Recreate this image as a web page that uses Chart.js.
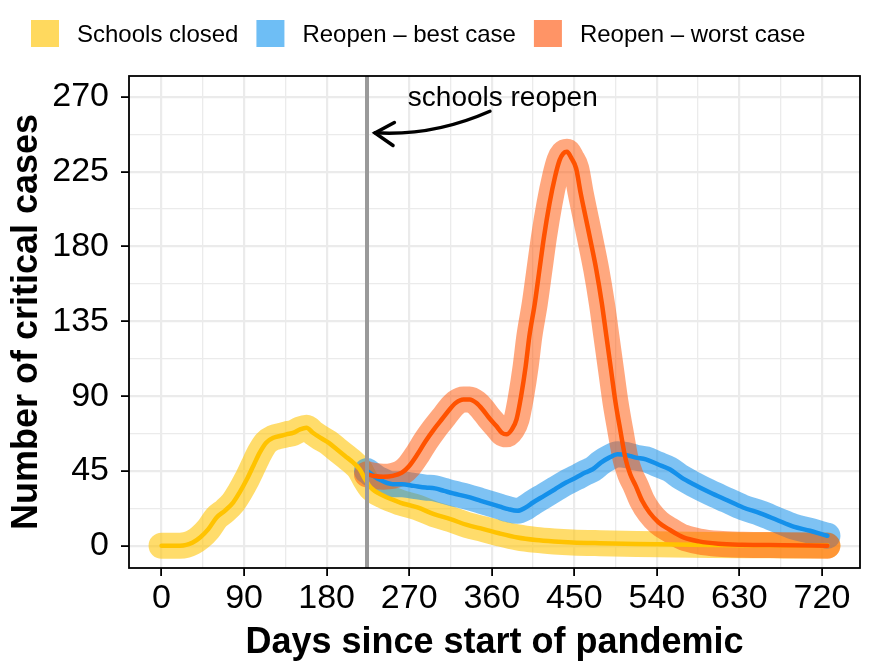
<!DOCTYPE html>
<html>
<head>
<meta charset="utf-8">
<script src="https://cdn.jsdelivr.net/npm/chart.js@4.4.1/dist/chart.umd.min.js"></script>
<style>
  html, body { margin: 0; padding: 0; background: #fff; }
  canvas { display: block; }
</style>
</head>
<body>
<canvas id="chart" width="872" height="666"></canvas>
<script>
// schools closed
const closedDays = [0, 10, 20, 27, 34, 42, 51, 60, 69, 78, 85, 93, 100, 107, 114, 122, 129, 136, 144, 151, 158, 165, 173, 182, 191, 200, 209, 216, 222, 228, 242, 260, 279, 297, 315, 333, 351, 368, 388, 408, 428, 448, 478, 518, 558, 598, 638, 678, 726];
const closedCases = [0, 0, 0, 0.5, 2, 5, 10, 17, 21, 26, 32, 40, 48, 56, 62, 65, 66, 67, 68, 70, 71, 68, 65, 62, 58, 54, 50, 46, 40, 35, 30, 26, 23, 19, 16, 12.5, 10, 7.5, 5, 3.5, 2.6, 2, 1.5, 1, 0.8, 0.5, 0.3, 0.2, 0.1];

// reopen - best case
const bestDays = [224, 237, 252, 262, 275, 288, 298, 308, 318, 333, 348, 360, 369, 378, 388, 397, 405, 417, 429, 441, 452, 462, 470, 479, 488, 497, 507, 517, 528, 541, 554, 567, 580, 598, 616, 634, 653, 671, 689, 707, 722, 726];
const bestCases = [45, 40, 37, 37, 36, 35, 34.5, 33, 31.5, 29.5, 27, 25, 23.5, 22, 21, 23, 26, 30, 34, 38, 41, 44, 46, 50, 53, 55, 54.5, 53, 52, 49, 46, 41, 37, 32, 27.5, 23, 19.5, 15.5, 11.5, 9, 6.5, 6];

// reopen - worst case
const worstDays = [224, 232, 242, 252, 262, 270, 279, 288, 297, 307, 314, 321, 329, 336, 343, 350, 357, 365, 371, 376, 382, 387, 392, 397, 401, 407, 412, 417, 423, 429, 434, 438, 442, 447, 452, 457, 463, 469, 474, 480, 485, 490, 495, 500, 506, 511, 517, 524, 532, 542, 554, 569, 586, 607, 633, 677, 726];
const worstCases = [43, 42, 41.5, 42, 44, 48, 55, 63, 70, 77, 82, 86, 88, 88, 86, 82, 77, 72, 68, 67, 70, 76, 90, 108, 126, 146, 166, 186, 206, 222, 232, 236, 237, 233, 227, 212, 196, 180, 166, 146, 126, 106, 86, 70, 52, 43, 36, 27, 20, 14, 9.6, 5, 2.6, 1.2, 0.6, 0.3, 0];

const seriesNames = ['Schools closed', 'Reopen \u2013 best case', 'Reopen \u2013 worst case'];
const xTicks = [0, 45, 90, 135, 180, 225, 270, 315, 360, 405, 450, 495, 540, 585, 630, 675, 720];
const yTicks = [0, 22.5, 45, 67.5, 90, 112.5, 135, 157.5, 180, 202.5, 225, 247.5, 270];
const reopenDay = 224;

const lineColors = ['#FFC300', '#1490EA', '#FF5200'];
const bandColors = ['rgba(255,194,0,0.58)', 'rgba(20,144,234,0.55)', 'rgba(255,82,0,0.5)'];
const keyColors = ['#FFD95E', '#6EBEF5', '#FF9466'];

const font = '"Liberation Sans", Arial, sans-serif';

function pts(days, cases) {
  return days.map((d, i) => ({ x: d, y: cases[i] }));
}

const series = [pts(closedDays, closedCases), pts(bestDays, bestCases), pts(worstDays, worstCases)];

const datasets = [];
// translucent bands first, then the solid lines on top
series.forEach((data, i) => {
  datasets.push({
    data: data,
    borderColor: bandColors[i],
    borderWidth: 26,
    borderCapStyle: 'round',
    borderJoinStyle: 'round',
    pointRadius: 0,
    cubicInterpolationMode: 'monotone',
    order: 6 - i
  });
});
series.forEach((data, i) => {
  datasets.push({
    data: data,
    borderColor: lineColors[i],
    borderWidth: 4.5,
    borderCapStyle: 'round',
    borderJoinStyle: 'round',
    pointRadius: 0,
    cubicInterpolationMode: 'monotone',
    order: 3 - i
  });
});

const extras = {
  id: 'extras',
  afterDatasetsDraw(chart) {
    const { ctx, scales: { x, y }, chartArea: a } = chart;
    ctx.save();
    // schools reopen line
    const px = x.getPixelForValue(reopenDay);
    ctx.strokeStyle = '#9A9A9A';
    ctx.lineWidth = 4;
    ctx.beginPath();
    ctx.moveTo(px, a.top);
    ctx.lineTo(px, a.bottom);
    ctx.stroke();

    // annotation
    ctx.fillStyle = '#000';
    ctx.font = '28px ' + font;
    ctx.textAlign = 'center';
    ctx.textBaseline = 'alphabetic';
    ctx.fillText('schools reopen', x.getPixelForValue(372), y.getPixelForValue(264.4));

    const sx = x.getPixelForValue(358), sy = y.getPixelForValue(261.4);
    const cx = x.getPixelForValue(296), cy = y.getPixelForValue(246.3);
    const tx = x.getPixelForValue(232.7), ty = y.getPixelForValue(248.4);
    ctx.strokeStyle = '#000';
    ctx.lineWidth = 3.5;
    ctx.lineCap = 'round';
    ctx.beginPath();
    ctx.moveTo(sx, sy);
    ctx.quadraticCurveTo(cx, cy, tx, ty);
    ctx.stroke();
    const ang = Math.atan2(ty - cy, tx - cx);
    ctx.beginPath();
    ctx.moveTo(tx - 22 * Math.cos(ang - 0.55), ty - 22 * Math.sin(ang - 0.55));
    ctx.lineTo(tx, ty);
    ctx.lineTo(tx - 22 * Math.cos(ang + 0.55), ty - 22 * Math.sin(ang + 0.55));
    ctx.stroke();
    ctx.restore();
  },
  afterDraw(chart) {
    const { ctx, chartArea: a } = chart;
    ctx.save();
    // panel border
    ctx.strokeStyle = '#000';
    ctx.lineWidth = 1.8;
    ctx.strokeRect(a.left, a.top, a.right - a.left, a.bottom - a.top);

    // legend
    ctx.font = '24px ' + font;
    ctx.textBaseline = 'middle';
    ctx.textAlign = 'left';
    let lx = 31;
    seriesNames.forEach((name, i) => {
      ctx.fillStyle = keyColors[i];
      ctx.fillRect(lx, 20, 28, 27);
      lx += 28 + 18;
      ctx.fillStyle = '#000';
      ctx.fillText(name, lx, 35);
      lx += ctx.measureText(name).width + 18;
    });
    ctx.restore();
  }
};

const isMajor = (v, step) => Math.abs(v % step) < 1e-6;

new Chart('chart', {
  type: 'line',
  data: { datasets: datasets },
  options: {
    responsive: false,
    animation: false,
    layout: { padding: { top: 76, right: 12, left: 0, bottom: 0 } },
    plugins: {
      legend: { display: false },
      tooltip: { enabled: false }
    },
    scales: {
      x: {
        type: 'linear',
        min: -35.5,
        max: 761.5,
        afterBuildTicks: s => { s.ticks = xTicks.map(v => ({ value: v })); },
        afterFit: s => { s.height = 98; },
        border: { display: false },
        grid: {
          color: '#EBEBEB',
          lineWidth: c => (c.tick && isMajor(c.tick.value, 90)) ? 2.2 : 1.3,
          tickColor: c => (c.tick && isMajor(c.tick.value, 90)) ? '#000' : 'rgba(0,0,0,0)',
          tickLength: 8,
          tickWidth: 1.8
        },
        ticks: {
          autoSkip: false,
          maxRotation: 0,
          padding: 2,
          color: '#000',
          font: { family: font, size: 34 },
          callback: v => isMajor(v, 90) ? String(v) : ''
        },
        title: {
          display: true,
          text: 'Days since start of pandemic',
          color: '#000',
          font: { family: font, size: 36, weight: 'bold' },
          padding: { top: 0, bottom: 1 }
        }
      },
      y: {
        type: 'linear',
        min: -13.4,
        max: 282.6,
        afterBuildTicks: s => { s.ticks = yTicks.map(v => ({ value: v })); },
        afterFit: s => { s.width = 129; },
        border: { display: false },
        grid: {
          color: '#EBEBEB',
          lineWidth: c => (c.tick && isMajor(c.tick.value, 45)) ? 2.2 : 1.3,
          tickColor: c => (c.tick && isMajor(c.tick.value, 45)) ? '#000' : 'rgba(0,0,0,0)',
          tickLength: 8,
          tickWidth: 1.8
        },
        ticks: {
          autoSkip: false,
          padding: 12,
          color: '#000',
          font: { family: font, size: 34 },
          callback: v => isMajor(v, 45) ? String(v) : ''
        },
        title: {
          display: true,
          text: 'Number of critical cases',
          color: '#000',
          font: { family: font, size: 36, weight: 'bold' },
          padding: { top: 5, bottom: 0 }
        }
      }
    }
  },
  plugins: [extras]
});
</script>
</body>
</html>
